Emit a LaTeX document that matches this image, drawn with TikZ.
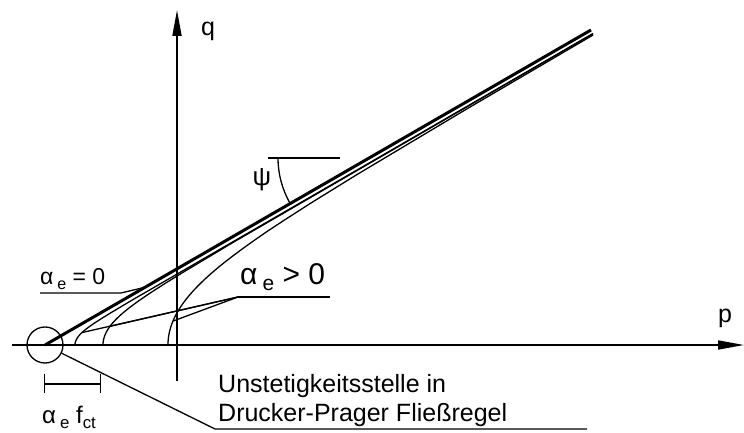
\documentclass[tikz,border=0pt]{standalone}
\usepackage{fontspec}
\setmainfont{Liberation Sans}
\usepackage{tikz}
\usetikzlibrary{arrows.meta,calc,positioning}
\newcommand\idx[1]{\,\raisebox{-.35ex}{\scalebox{.7}{#1}}}
\newcommand\idxx[1]{\raisebox{-.35ex}{\scalebox{.7}{#1}}}
\pgfmathdeclarefunction{cv}{2}{\pgfmathparse{tan(30)*(#2-8.5)*sqrt(1-((#1-8.5)/(#2-8.5))^3)}}
\tikzset{
  axis/.style={line width=1.7pt,-{Triangle[length=26pt,width=9pt]}},
  cone/.style={line width=3pt},
  curve/.style={line width=1.3pt},
  leader/.style={line width=1.3pt},
  lbl/.style={anchor=base west,inner sep=0pt,font=\fontsize{25}{30}\selectfont}
}
\begin{document}
\begin{tikzpicture}[x=1pt,y=1pt]
  \useasboundingbox (-45,-88) rectangle (699,345);
  \coordinate (A) at (0,0);
  % axes
  \draw[axis] (-33,0) -- (699,0);
  \draw[axis] (132,-36) -- (132,335);
  \node[lbl] (p) at (673,22) {p};
  \node[lbl] (q) at (156,309) {q};
  % cone and smoothed curves
  \draw[cone] (A) -- (546,315);
  \foreach \s in {30,58,123} {\draw[curve,variable=\t,domain=0:0.99,samples=60] plot ({8.5+(\s-8.5)/(1-\t*\t)^(1/3)},{tan(30)*(\s-8.5)/(1-\t*\t)^(1/3)*\t}) -- (548,{cv(\s,548)});}
  \coordinate (c1) at (37,{cv(30,37)});
  \coordinate (c2) at (65,{cv(58,65)});
  \coordinate (c3) at (128,{cv(123,128)});
  \coordinate (z0) at (100,{100*tan(30)});
  % angle psi
  \coordinate (psic) at (324,187);
  \draw[leader] (223,187) -- (295,187);
  \draw[leader] (psic) ++(180:91) arc[start angle=180,end angle=210,radius=91];
  \node[font=\fontsize{26}{30}\selectfont,inner sep=0pt] (psi) at (217,165) {ψ};
  % labels alpha_e
  \node[lbl,font=\fontsize{23}{27}\selectfont] (a0) at (-5,60) {α\idx{e} = 0};
  \coordinate (a0r) at (76,52);
  \draw[leader] (-5,52) -- (a0r) -- (z0);
  \node[lbl,font=\fontsize{30}{34}\selectfont] (a1) at (195,60) {α\idx{e} > 0};
  \coordinate (a1l) at (193,48);
  \draw[leader] (285,48) -- (a1l);
  \foreach \c in {c1,c2,c3} \draw[leader] (a1l) -- (\c);
  % discontinuity
  \node[circle,draw,line width=1.3pt,minimum size=36pt,inner sep=0pt] (disc) at (A) {};
  \draw[leader,{Bar[width=19pt]}-{Bar[width=19pt]}] (-1,-39) -- (56,-39);
  \node[lbl,font=\fontsize{24}{28}\selectfont] (afct) at (-3,-79) {α\idx{e} f\idxx{ct}};
  \node[lbl] (unst) at (173,-48) {Unstetigkeitsstelle in};
  \node[lbl] (dp) at (173,-77) {Drucker-Prager Fließregel};
  \coordinate (dpl) at (170,-84);
  \draw[leader] (disc) -- (dpl) -- (542,-84);
\end{tikzpicture}
\end{document}
